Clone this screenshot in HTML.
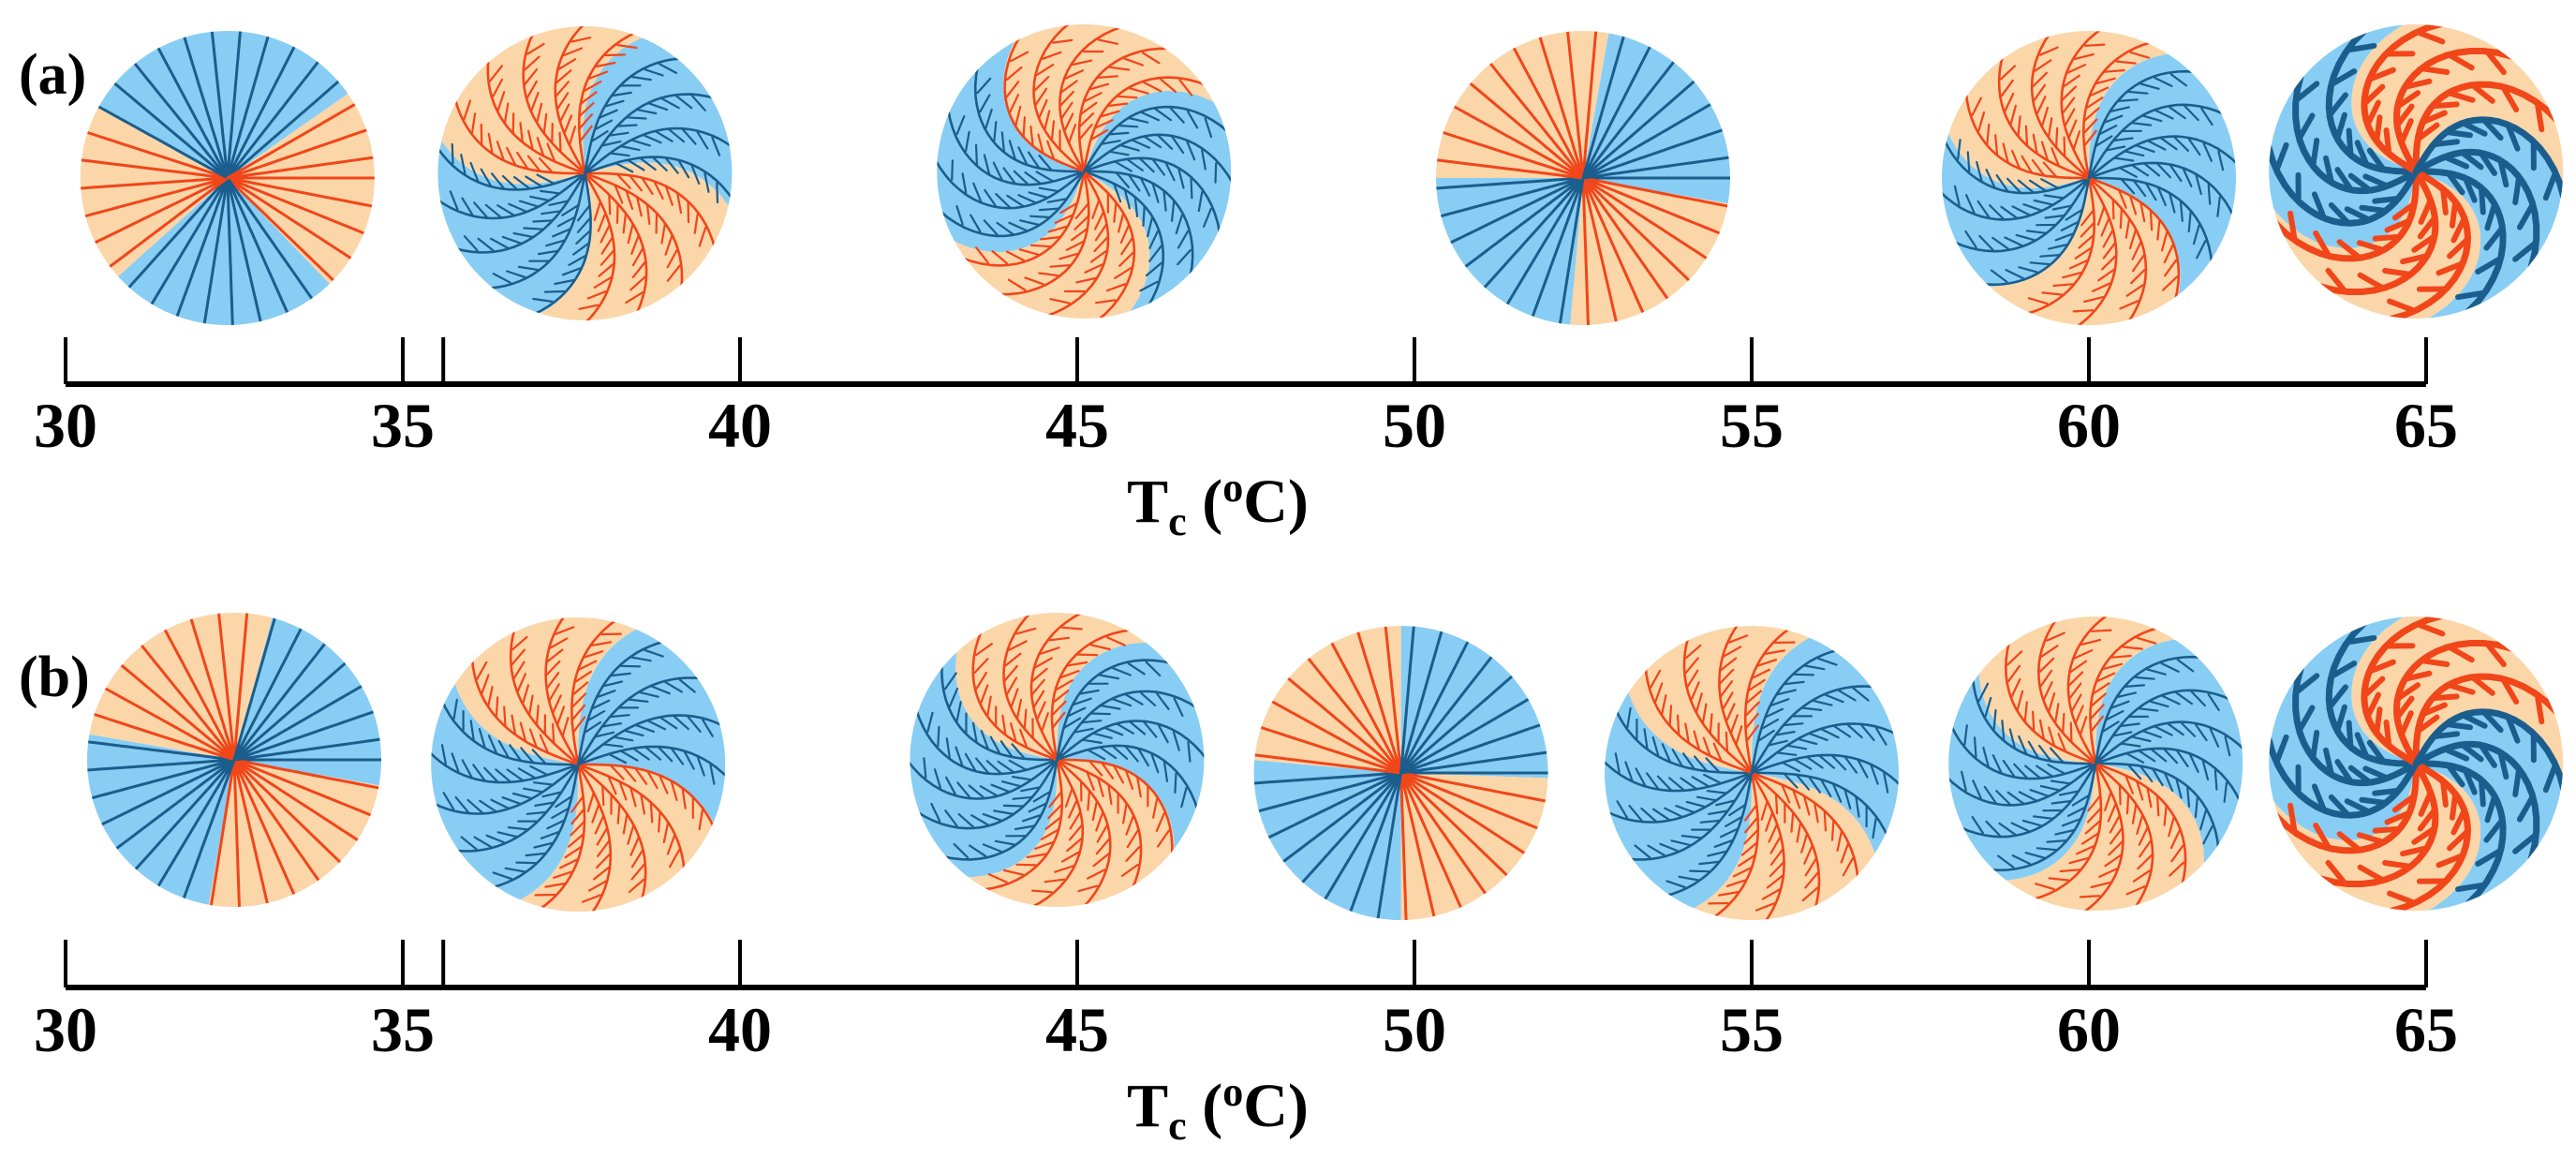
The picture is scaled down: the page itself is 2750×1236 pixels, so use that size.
<!DOCTYPE html>
<html><head><meta charset="utf-8"><style>
html,body{margin:0;padding:0;background:#fff;}
svg{display:block;}
text{font-family:"Liberation Serif",serif;font-weight:bold;fill:#000;}
</style></head><body>
<svg id="fig" width="2750" height="1236" viewBox="0 0 2750 1236" xmlns="http://www.w3.org/2000/svg">
<text x="20" y="100" font-size="62">(a)</text>
<text x="20" y="743" font-size="62">(b)</text>
</svg>
<script>
// ---- data ----
const tickValues = [30, 35, 35.6, 40, 45, 50, 55, 60, 65];
const tickLabels = ["30", "35", "", "40", "45", "50", "55", "60", "65"];
const panelATemps = [32.4, 37.7, 45.1, 52.5, 60.0, 64.85];
const panelATypes = ["s", "f", "f", "s", "f", "w"];
const panelACurv = [0, 30, 45, 0, 35, 70];
const panelASectors = [
  [[-151,-35,"b"],[-35,46,"p"],[46,138,"b"],[138,209,"p"]],
  [[-95,-15,"b"],[-15,80,"p"],[80,165,"b"],[165,265,"p"]],
  [[-70,30,"b"],[30,110,"p"],[110,200,"b"],[200,290,"p"]],
  [[-80,10,"b"],[10,95,"p"],[95,180,"b"],[180,280,"p"]],
  [[-90,20,"b"],[20,100,"p"],[100,165,"b"],[165,270,"p"]],
  [[-60,20,"b"],[20,100,"p"],[100,200,"b"],[200,300,"p"]]
];
const panelBTemps = [32.5, 37.6, 44.7, 49.8, 55.0, 60.1, 64.85];
const panelBTypes = ["s", "f", "f", "s", "f", "f", "w"];
const panelBCurv = [0, 25, 40, 0, 25, 35, 70];
const panelBSectors = [
  [[-75,10,"b"],[10,100,"p"],[100,190,"b"],[190,285,"p"]],
  [[-90,0,"b"],[0,90,"p"],[90,190,"b"],[190,270,"p"]],
  [[-90,0,"b"],[0,90,"p"],[90,190,"b"],[190,270,"p"]],
  [[-90,2,"b"],[2,90,"p"],[90,185,"b"],[185,270,"p"]],
  [[-90,10,"b"],[10,90,"p"],[90,190,"b"],[190,270,"p"]],
  [[-90,10,"b"],[10,95,"p"],[95,185,"b"],[185,270,"p"]],
  [[-60,20,"b"],[20,100,"p"],[100,200,"b"],[200,300,"p"]]
];

// ---- layout ----
const NS = "http://www.w3.org/2000/svg";
const svg = document.getElementById("fig");
const X0 = 70, PX = 72;
function xScale(t){ return X0 + PX*(t-30); }
const R = 157;
const BG = {b:"#88cdf4", p:"#fbd6a9"};
const LN = {b:"#1b5e8d", p:"#f0461a"};
const panels = [
  {name:"a", temps:panelATemps, types:panelATypes, curv:panelACurv, secs:panelASectors, cy:[190,185,183,190,190,183], axisY:410, tickTop:360, labelY:477, titleY:557},
  {name:"b", temps:panelBTemps, types:panelBTypes, curv:panelBCurv, secs:panelBSectors, cy:[811,816,811,825,825,815,815], axisY:1054, tickTop:1003, labelY:1122, titleY:1202}
];
function mk(tag, attrs, parent){
  const e = document.createElementNS(NS, tag);
  for (const k in attrs) e.setAttribute(k, attrs[k]);
  (parent||svg).appendChild(e);
  return e;
}
function rad(d){ return d*Math.PI/180; }
function pt(cx,cy,r,deg){ return [cx + r*Math.cos(rad(deg)), cy + r*Math.sin(rad(deg))]; }
let clipId = 0;

function drawCircle(panel, idx){
  const cx = xScale(panel.temps[idx]), cy = panel.cy[idx];
  const type = panel.types[idx], curv = panel.curv[idx], secs = panel.secs[idx];
  const g = mk("g", {});
  
  
  const cid = "clip" + (clipId++);
  const cp = mk("clipPath", {id:cid}, g);
  mk("circle", {cx:cx, cy:cy, r:R}, cp);
  const inner = mk("g", {"clip-path":"url(#"+cid+")"}, g);
  const ang = (a0, s) => a0 + curv*s*s;
  secs.forEach(sec => {
    const pts = [];
    for (let s=0; s<=1.001; s+=0.05) pts.push(pt(cx,cy,(R+6)*s,ang(sec[0],s)));
    for (let a=sec[0]+curv; a<=sec[1]+curv; a+=3) pts.push(pt(cx,cy,R+6,a));
    for (let s=1; s>=-0.001; s-=0.05) pts.push(pt(cx,cy,(R+6)*s,ang(sec[1],s)));
    const p = mk("polygon", {points:pts.map(q=>q[0].toFixed(1)+","+q[1].toFixed(1)).join(" "), fill:BG[sec[2]]}, inner);
    
    
  });
  const step = type==="s" ? 11 : (type==="f" ? 20 : 30);
  const sw = type==="w" ? 7 : (type==="f" ? 2.6 : 3);
  for (let a0 = 0; a0 < 360; a0 += step){
    let col = "p";
    secs.forEach(sec => {
      let a = a0; while (a < sec[0]) a += 360; while (a >= sec[0]+360) a -= 360;
      if (a >= sec[0] && a < sec[1]) col = sec[2];
    });
    const pts = [];
    for (let s=0; s<=1.001; s+=0.04) pts.push(pt(cx,cy,R*1.02*s,ang(a0,s)));
    const line = mk("polyline", {points:pts.map(q=>q[0].toFixed(1)+","+q[1].toFixed(1)).join(" "), fill:"none", stroke:LN[col], "stroke-width":sw, "stroke-linecap":"round"}, inner);
    
    
    if (type !== "s"){
      const bl = type==="w" ? 0.16 : 0.13;
      for (let s=0.22; s<0.98; s+=(type==="w"?0.12:0.085)){
        const p0 = pt(cx,cy,R*s,ang(a0,s));
        const p1 = pt(cx,cy,R*(s+0.01),ang(a0,s+0.01));
        const dir = Math.atan2(p1[1]-p0[1], p1[0]-p0[0]) + (curv>=0? 0.75 : -0.75);
        const L = R*bl;
        const e = [p0[0]+L*Math.cos(dir), p0[1]+L*Math.sin(dir)];
        const b = mk("line", {x1:p0[0].toFixed(1), y1:p0[1].toFixed(1), x2:e[0].toFixed(1), y2:e[1].toFixed(1), stroke:LN[col], "stroke-width":sw*0.85, "stroke-linecap":"round"}, inner);
        
        
      }
    }
  }
}

panels.forEach(panel => {
  panel.temps.forEach((t,i) => drawCircle(panel, i));
  const ax = mk("line", {x1:xScale(30), y1:panel.axisY, x2:xScale(65), y2:panel.axisY, stroke:"#000", "stroke-width":6});
  
  
  tickValues.forEach((v,i) => {
    const tk = mk("line", {x1:xScale(v), y1:panel.tickTop, x2:xScale(v), y2:panel.axisY, stroke:"#000", "stroke-width":4});
    
    
    if (tickLabels[i]){
      const tx = mk("text", {x:xScale(v), y:panel.labelY, "text-anchor":"middle", "font-size":68});
      tx.textContent = tickLabels[i];
      
      
    }
  });
  const title = mk("text", {x:1300, y:panel.titleY, "text-anchor":"middle", "font-size":66});
  
  
  title.innerHTML = 'T<tspan font-size="44" dy="14">c</tspan><tspan dy="-14"> (</tspan><tspan font-size="44" dy="-22">o</tspan><tspan dy="22">C)</tspan>';
});
</script>
</body></html>
